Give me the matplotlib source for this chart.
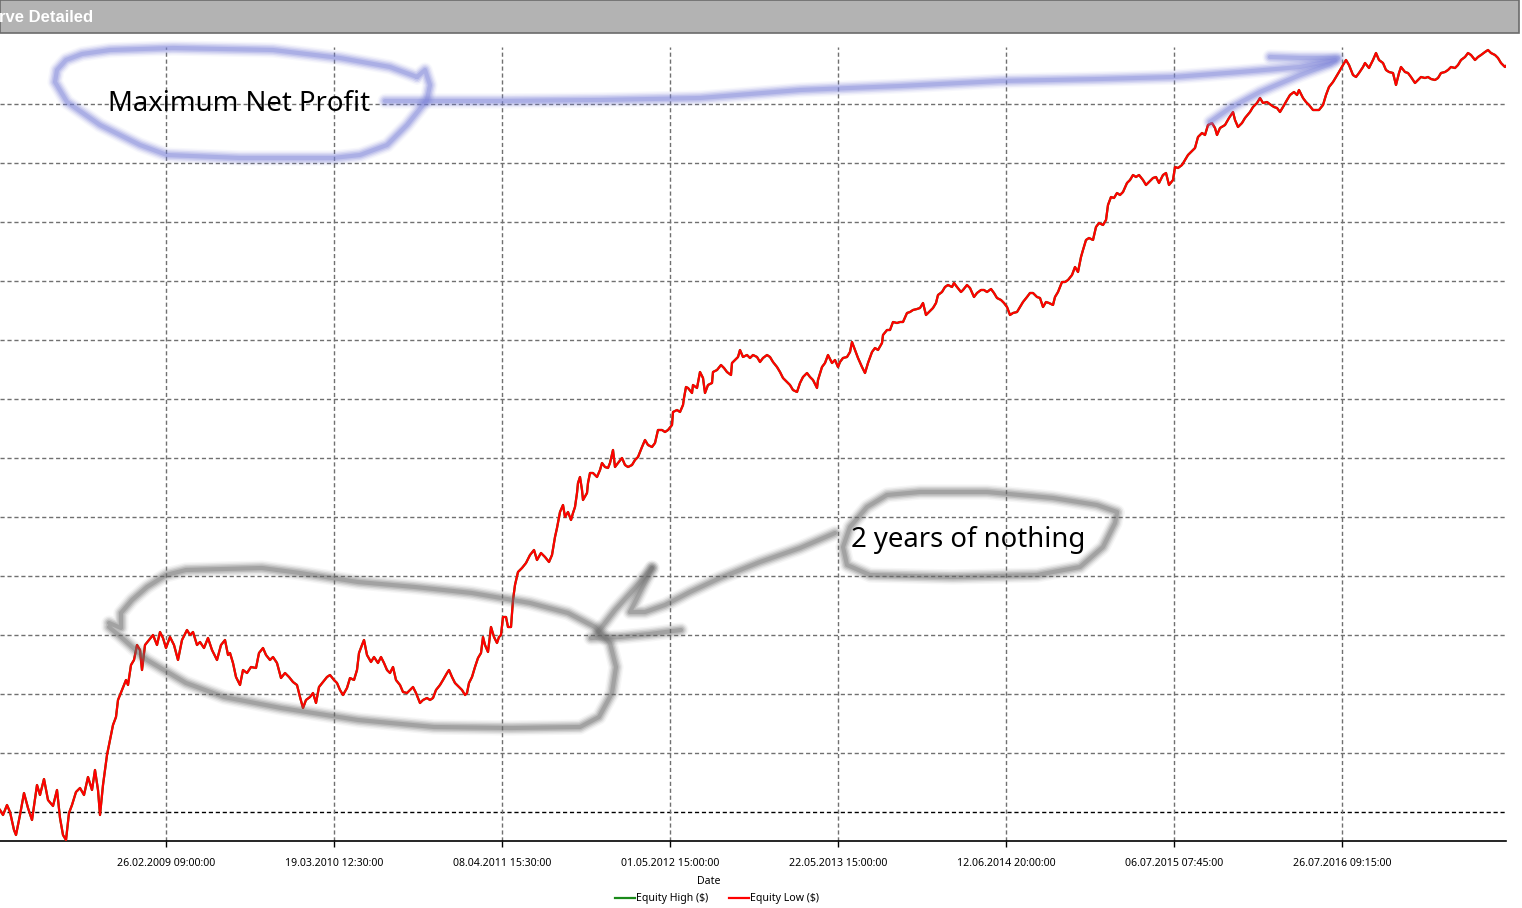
import matplotlib
matplotlib.use('Agg')
import matplotlib.pyplot as plt
from matplotlib.patches import Rectangle

plt.rcParams['font.family'] = ['Noto Sans', 'DejaVu Sans']

# equity curve (bar index, equity; one grid step = 59)
bars = [0, 3, 7, 10, 14, 16, 20, 24, 28, 32, 37, 40, 44, 48, 53, 57, 60, 63, 66, 69, 72, 76, 80, 84, 88, 92, 95, 98,
        100, 103, 105, 107, 110, 113, 116, 118, 122, 126, 128, 131, 134, 137, 140, 142, 145, 149, 153, 157, 160, 163,
        166, 170, 174, 178, 182, 187, 190, 193, 197, 200, 204, 208, 212, 217, 221, 225, 228,
        230, 233, 236, 240, 243, 247, 251, 256, 259, 263, 266, 270, 273, 277, 281, 285, 289, 293, 297, 300, 303, 306,
        310, 313, 316, 319, 323, 327, 330, 334, 337, 340, 343, 347, 350, 354, 357, 359, 362, 364, 367, 371, 374, 378,
        381, 384, 387, 390, 393, 396, 400, 403, 407, 410, 413, 416, 420, 423, 427, 430, 433, 436, 440, 443, 447, 449,
        452, 455, 459, 462, 465, 467, 469, 472, 475, 478, 481, 483, 485, 488, 491, 494, 497, 499, 501, 503, 506, 508,
        511, 513, 515, 518, 522, 526, 530, 534, 537, 541, 545, 549,
        552, 555, 557, 560, 563, 565, 568, 571, 573, 575, 577, 578, 580, 582, 583, 587, 588, 590, 593, 597, 600, 602,
        605, 608, 610, 613, 615, 618, 622, 625, 628, 632, 635, 638, 642, 645, 648, 652, 655, 658, 662, 665, 668, 672,
        673, 677, 680, 683, 684, 686, 688, 692, 693, 697, 700, 703, 705, 708, 712, 713, 717, 721, 724, 727, 731, 732,
        735, 738, 740, 743, 747, 750, 753, 757, 760, 763, 767, 770, 773, 777, 780, 783, 787, 790, 793, 797, 800, 803,
        807, 810, 813, 817, 818, 822, 825, 828, 832, 835, 838, 840, 843, 847, 850, 852, 855, 858, 862, 865, 868, 872,
        875, 878, 882, 883, 887,
        890, 893, 897, 900, 903, 907, 910, 913, 917, 920, 923, 926, 929, 933, 936, 938, 942, 945, 948, 952, 954, 957,
        961, 963, 967, 970, 974, 977, 981, 984, 987, 991, 994, 997, 1001, 1004, 1007, 1010, 1013, 1017, 1020, 1023,
        1027, 1030, 1033, 1037, 1040, 1043, 1046, 1049, 1053, 1055, 1058, 1062, 1065, 1068, 1072, 1075, 1078, 1081,
        1083, 1086, 1089, 1093, 1096, 1099, 1103, 1106, 1108, 1111, 1114, 1117, 1120, 1123, 1127, 1130, 1133, 1136,
        1139, 1143, 1146, 1149, 1153, 1156, 1159, 1163, 1166, 1169, 1173, 1175, 1178, 1182, 1185, 1188,
        1190, 1195, 1198, 1202, 1205, 1208, 1212, 1215, 1217, 1220, 1225, 1229, 1233, 1235, 1238, 1242, 1245, 1250,
        1253, 1257, 1260, 1263, 1267, 1271, 1274, 1277, 1280, 1283, 1287, 1290, 1294, 1297, 1299, 1303, 1306, 1309,
        1313, 1316, 1319, 1323, 1326, 1329, 1333, 1336, 1339, 1343, 1346, 1349, 1353, 1356, 1359, 1363, 1365, 1369,
        1373, 1376, 1379, 1383, 1386, 1389, 1393, 1396, 1399, 1401, 1405, 1408, 1411, 1415, 1418, 1421, 1425, 1428,
        1431, 1435, 1438, 1441, 1445, 1448, 1451, 1455, 1458, 1461, 1465, 1468, 1471, 1475, 1478, 1481, 1485, 1488,
        1491, 1495, 1498, 1501, 1505, 1507]

equity_low = [2, -3, 7, 0, -18, -23, -3, 19, 4, -8, 27, 17, 33, 12, 6, 22, -6, -23, -28, -1, 7, 20, 24, 17, 35, 22, 42, 22,
              -3, 27, 42, 57, 72, 87, 95, 112, 122, 132, 127, 147, 152, 167, 162, 142, 167, 172, 177, 167, 180, 174,
              164, 175, 167, 152, 172, 182, 177, 180, 167, 170, 164, 174, 162, 152, 167, 172, 157,
              159, 149, 135, 127, 142, 139, 145, 144, 159, 164, 157, 152, 155, 149, 134, 139, 135, 130, 127, 115, 104, 112,
              115, 119, 109, 125, 130, 135, 137, 132, 129, 122, 117, 124, 134, 132, 142, 159, 167, 172, 157, 150, 155, 149,
              155, 149, 142, 139, 145, 132, 127, 120, 119, 122, 125, 119, 109, 112, 114, 112, 114, 122, 127, 132, 139, 142,
              135, 129, 125, 122, 117, 119, 129, 135, 145, 154, 159, 175, 167, 160, 185, 175, 169, 175, 177, 195, 195, 185,
              185, 212, 227, 240, 244, 249, 257, 262, 252, 259, 255, 250,
              257, 275, 284, 300, 307, 295, 300, 292, 299, 305, 319, 329, 335, 322, 312, 319, 329, 339, 339, 335, 342, 349,
              345, 344, 349, 362, 345, 349, 354, 347, 345, 347, 352, 355, 365, 372, 367, 365, 369, 382, 382, 380, 382, 387,
              400, 402, 400, 407, 414, 425, 424, 419, 427, 424, 440, 434, 419, 427, 429, 440, 442, 447, 444, 440, 437, 449,
              452, 455, 462, 455, 457, 454, 457, 455, 450, 454, 457, 455, 450, 445, 440, 434, 430, 427, 422, 420, 429, 435,
              439, 435, 432, 424, 432, 445, 449, 457, 449, 452, 445, 450, 454, 455, 460, 470, 462, 454, 445, 439, 449, 460,
              464, 462, 469, 477, 482,
              482, 490, 489, 490, 490, 499, 500, 502, 503, 504, 509, 497, 500, 504, 509, 517, 520, 525, 527, 525, 529, 525,
              520, 522, 527, 524, 515, 519, 522, 522, 520, 523, 519, 514, 512, 509, 505, 497, 499, 500, 505, 510,
              515, 519, 519, 515, 514, 505, 510, 509, 507, 515, 520, 530, 530, 532, 537, 545, 540, 555,
              562, 572, 574, 572, 585, 589, 587, 592, 607, 615, 614, 619, 617, 620, 629, 632, 637, 635,
              637, 632, 627, 630, 634, 635, 629, 637, 639, 627, 632, 645, 644, 647, 652, 657,
              659, 664, 675, 679, 677, 687, 689, 684, 677, 684, 687, 694, 700, 692, 685, 689, 694, 700,
              705, 709, 714, 709, 710, 707, 705, 704, 700, 705, 712, 717, 720, 717, 722, 714, 710, 707,
              702, 702, 702, 707, 717, 725, 730, 735, 740, 747, 752, 747, 737, 735, 739, 745, 749, 744,
              752, 759, 752, 749, 742, 740, 739, 727, 739, 745, 740, 739, 735, 729, 732, 735, 734, 735,
              733, 732, 734, 739, 740, 742, 745, 744, 747, 752, 755, 759, 757, 752, 755, 757, 760, 762,
              759, 757, 754, 749, 745, 747]
equity_high = list(equity_low)

tick_bars = [166, 334, 502, 670, 838, 1006, 1174, 1342]
tick_labels = ['26.02.2009 09:00:00', '19.03.2010 12:30:00', '08.04.2011 15:30:00', '01.05.2012 15:00:00',
               '22.05.2013 15:00:00', '12.06.2014 20:00:00', '06.07.2015 07:45:00', '26.07.2016 09:15:00']
grid_levels = [59 * k for k in range(1, 13)]

W, H = 1522, 908
fig = plt.figure(figsize=(W / 100, H / 100), dpi=100)
fig.patch.set_facecolor('white')

ax = fig.add_axes([0, (H - 841) / H, 1506 / W, 794 / H])
ax.plot(bars, equity_high, color='#1a8a1a', lw=1.6, label='Equity High ($)', zorder=3)
ax.plot(bars, equity_low, color='#ff0000', lw=1.6, label='Equity Low ($)', zorder=4)
ax.set_xlim(0, 1506)
ax.set_ylim(-29, 765)
for lvl in grid_levels:
    ax.axhline(lvl, color='#707070', lw=1, ls=(0, (3, 2)), zorder=1)
ax.axhline(0, color='black', lw=1, ls=(0, (3, 2)), zorder=1)
for b in tick_bars:
    ax.axvline(b, color='#707070', lw=1, ls=(0, (3, 2)), zorder=1)
ax.set_xticks(tick_bars)
ax.set_xticklabels(tick_labels, fontsize=7.6)
ax.set_yticks([])
ax.tick_params(axis='x', length=4, width=1, pad=8, color='black')
for s in ['left', 'right', 'top']:
    ax.spines[s].set_visible(False)
ax.spines['bottom'].set_linewidth(1.2)

fig.text(709 / W, 1 - 881 / H, 'Date', fontsize=7.6, ha='center', va='center')
fig.legend(loc='center', bbox_to_anchor=(717 / W, 1 - 899 / H), ncol=2, frameon=False, fontsize=7.6,
           handlelength=1.9, handletextpad=0.15, columnspacing=1.9)

# overlay in pixel coords for the header and the hand-drawn notes
ov = fig.add_axes([0, 0, 1, 1], zorder=10)
ov.set_xlim(0, W)
ov.set_ylim(H, 0)
ov.axis('off')
ov.patch.set_alpha(0)

ov.add_patch(Rectangle((0, 0), 1519, 33, facecolor='#b3b3b3', edgecolor='#6b6b6b', lw=1.2))
ov.text(-1, 17, 'rve Detailed', color='white', fontsize=12, fontweight='bold', va='center', ha='left',
        family=['Liberation Sans', 'DejaVu Sans'])


def stroke(xs, ys, color):
    for lw, a in [(11, 0.06), (9, 0.1), (7, 0.16), (5, 0.22), (3, 0.3)]:
        ov.plot(xs, ys, color=color, lw=lw, alpha=a, solid_capstyle='round', solid_joinstyle='round')


blue = '#7880d8'
gray = '#6a6a6a'

# blue loop around the label
stroke([417, 425, 430, 427, 407, 387, 360, 333, 240, 167, 140, 100, 67, 55, 57, 66, 82, 110, 173, 273, 340, 390, 417],
       [77, 70, 85, 100, 125, 145, 155, 158, 158, 155, 145, 125, 102, 82, 70, 60, 54, 50, 48, 50, 58, 67, 77], blue)
stroke([385, 500, 600, 700, 800, 900, 1000, 1100, 1174, 1240, 1300, 1335],
       [101, 101, 100, 98, 90, 86, 81, 79, 77, 72, 67, 60], blue)
stroke([1270, 1300, 1338, 1330, 1300, 1260, 1230, 1210],
       [57, 58, 58, 64, 75, 92, 108, 122], blue)

# gray loop around the flat stretch
stroke([109, 121, 121, 132, 147, 166, 186, 262, 300, 358, 415, 472, 530, 568, 595, 610, 616, 612, 599, 580,
        511, 434, 358, 281, 224, 186, 147, 121, 109],
       [623, 628, 613, 600, 587, 575, 570, 568, 573, 582, 587, 593, 603, 613, 627, 643, 667, 693, 717, 727,
        728, 727, 720, 708, 697, 683, 660, 637, 627], gray)
stroke([652, 640, 630, 645, 665, 690, 720, 760, 800, 835],
       [568, 592, 612, 612, 605, 592, 578, 562, 548, 533], gray)
stroke([598, 615, 635, 652], [632, 610, 588, 568], gray)
stroke([591, 620, 650, 681], [638, 637, 634, 630], gray)
# gray loop around its note
stroke([1117, 1097, 1053, 987, 920, 887, 867, 850, 843, 847, 870, 953, 1037, 1080, 1103, 1115, 1117],
       [512, 505, 498, 492, 492, 495, 507, 527, 547, 565, 575, 577, 575, 567, 547, 523, 513], gray)

ov.text(108, 104, 'Maximum Net Profit', fontsize=19.8, va='center', ha='left', color='black')
ov.text(851, 540, '2 years of nothing', fontsize=19.8, va='center', ha='left', color='black')

fig.savefig('out.png', dpi=100)
